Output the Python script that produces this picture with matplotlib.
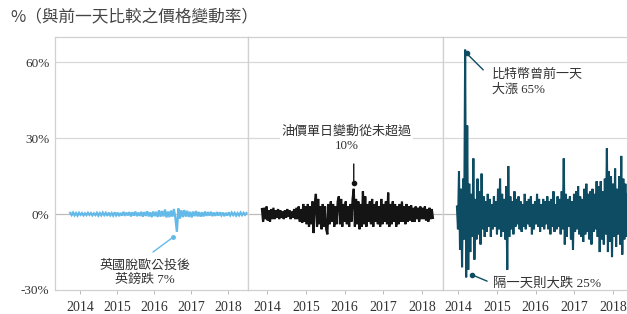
import numpy as np
import matplotlib
matplotlib.use("Agg")
import matplotlib.pyplot as plt

# ---------------- data ----------------
title = "%（與前一天比較之價格變動率）"
years = [2014, 2015, 2016, 2017, 2018]
y_ticks = [-30, 0, 30, 60]
y_ticklabels = ["-30%", "0%", "30%", "60%"]

# GBP daily change (%)
gbp_start, gbp_end = 2013.73, 2018.50
gbp_change = [
    0.5, -0.4, 0.6, -0.5, 0.4, -0.6, 0.5, -0.3, 0.4, -0.5,
    0.3, -0.4, 0.5, -0.3, 0.4, -0.5, 0.3, -0.4, 0.5, -0.6,
    0.4, -0.5, 0.6, -0.4, 0.5, -0.7, 0.6, -0.5, 0.4, -0.6,
    0.7, -0.5, 0.6, -0.8, 0.5, -0.6, 0.9, -0.7, 0.6, -0.5,
    0.8, -0.9, 0.7, -0.6, 1.0, -0.8, 0.6, -0.7, 0.9, -1.0,
    0.8, -0.7, 1.1, -0.9, 0.7, -1.2, 1.0, -0.8, 0.9, -1.1,
    1.5, -1.0, 1.2, -0.9, 1.8, -1.3, 1.0, -1.2, 1.4, -1.0,
    2.0, -1.5, -7.0, 2.2, -1.8, 1.5, -1.2, 1.6, -1.0, 1.3,
    -1.1, 0.9, -1.3, 1.0, -0.8, 1.2, -0.9, 0.8, -1.0, 0.7,
    -0.9, 1.0, -0.7, 0.8, -0.6, 0.9, -0.8, 0.6, -0.7, 0.8,
    -0.6, 0.7, -0.5, 0.6, -0.8, 0.5, -0.6, 0.7, -0.5, 0.6,
    -0.4, 0.5, -0.6, 0.4, -0.5, 0.6, -0.4, 0.5, -0.3, 0.4,
]

# Oil daily change (%)
oil_start, oil_end = 2013.87, 2018.28
oil_change = [
    2, -3, 2.5, -2, 3, -2.5, 1.5, -3, 2, -2,
    2.5, -2, 1.5, -1.5, 2, -2, 1.5, -1.5, 1, -2,
    1.5, -1.5, 2, -1, 1.5, -2, 1, -1.5, 2, -2,
    2.5, -2, 3, -3, 2, -3.5, 4, -3, 3, -4,
    4, -5, 3, -4, 5, -7.5, 4, 8, -5, 6,
    -4, 3, -6, 4, -5, 3, -6, -8, 4, -4,
    5, -3, 4, -5, 3, -4, 5, 7, -4, 6,
    -5, 4, -3, 5, -4, 3, -5, 4, -3, 6,
    10, -5, 6, -4, 5, -6, 4, -5, 9, -4,
    7, -5, 4, -3, 5, -4, 6, -5, 4, -3,
    5, -4, 3, -5, 6, -4, 4, -3, 5, -4,
    8.5, -5, 4, -4, 5, -3, 4, -5, 3, -4,
    4, -3, 5, -3, 3, -4, 4, -3, 3, -2.5,
    3.5, -3, 2.5, -3, 3, -2, 2.5, -3, 3, -2,
    2.5, -2, 3, -2.5, 2, -3, 2.5, -2, 2, -1.5,
]

# Bitcoin daily change (%)
btc_start, btc_end = 2013.97, 2018.72
btc_change = [
    3, -6, 17, -14, 10, -21, 14, -10, 65, -25,
    35, -22, 12, -15, 8, -9, 22, -18, 6, -10,
    14, -8, 9, -12, 16, -6, 7, -9, 5, -7,
    8, -5, 6, -9, 4, -6, 7, -5, 5, -8,
    10, -6, 14, -9, 8, -7, 6, -10, 11, -22,
    19, -9, 7, -6, 5, -8, 9, -5, 6, -4,
    7, -6, 5, -7, 4, -5, 8, -6, 5, -4,
    6, -5, 7, -8, 4, -6, 5, -4, 8, -5,
    6, -7, 4, -5, 6, -6, 5, -4, 7, -6,
    5, -8, 6, -5, 9, -7, 4, -6, 7, -5,
    6, -8, 9, -6, 22, -12, 8, -9, 6, -5,
    7, -10, 5, -14, 8, -7, 9, -6, 11, -8,
    7, -9, 6, -11, 10, -8, 12, -7, 8, -10,
    9, -12, 10, -7, 8, -6, 13, -9, 11, -15,
    13, -10, 9, -12, 14, -8, 26, -15, 17, -11,
    15, -17, 12, -9, 18, -13, 10, -8, 15, -12,
    23, -16, 14, -10, 12, -9, 8, -14, 10, -7,
    9, -6, 7, -8, 6, -5, 5, -6, 4, -5,
]

gbp_note = "英國脫歐公投後\n英鎊跌 7%"
oil_note = "油價單日變動從未超過\n10%"
btc_up_note = "比特幣曾前一天\n大漲 65%"
btc_down_note = "隔一天則大跌 25%"

# ---------------- style ----------------
W, H = 627, 314
CJK = ["Liberation Serif", "Noto Sans CJK TC", "DejaVu Sans"]
SERIF = ["Liberation Serif", "DejaVu Serif"]
C_GBP = "#63b9e8"
C_OIL = "#141414"
C_BTC = "#0d4c63"
C_TXT = "#333333"
C_GRID = "#d8d8d8"
C_SPINE = "#d0d0d0"

fig = plt.figure(figsize=(W / 100, H / 100), dpi=100)
fig.patch.set_facecolor("white")


def px_axes(x0, x1, y0=37, y1=290):
    return [x0 / W, 1 - y1 / H, (x1 - x0) / W, (y1 - y0) / H]


panels = [
    (px_axes(55, 248), (2013.32, 2018.54), gbp_start, gbp_end, gbp_change, C_GBP, 1.6),
    (px_axes(248, 443), (2013.51, 2018.54), oil_start, oil_end, oil_change, C_OIL, 1.6),
    (px_axes(443, 640), (2013.61, 2018.70), btc_start, btc_end, btc_change, C_BTC, 1.5),
]

axes = []
series = []
for i, (rect, xl, s, e, vals, col, lw) in enumerate(panels):
    ax = fig.add_axes(rect)
    vals = np.asarray(vals, dtype=float)
    x = np.linspace(s, e, len(vals))
    series.append((x, vals))
    for g in (30, 60):
        ax.axhline(g, color=C_GRID, lw=0.9, zorder=0)
    ax.axhline(0, color="#bdbdbd", lw=0.9, zorder=0)
    ax.plot(x, vals, color=col, lw=lw, zorder=2, solid_joinstyle="miter")
    ax.set_xlim(*xl)
    ax.set_ylim(-30, 70)
    ax.set_xticks(years)
    ax.set_xticklabels([str(y) for y in years], fontfamily=SERIF, fontsize=10, color=C_TXT)
    ax.tick_params(axis="x", length=3, width=0.7, color="#bbbbbb", pad=5)
    ax.set_yticks(y_ticks)
    if i == 0:
        ax.set_yticklabels(y_ticklabels, fontfamily=SERIF, fontsize=9.5, color=C_TXT)
        ax.tick_params(axis="y", length=0, pad=4)
    else:
        ax.tick_params(axis="y", length=0, labelleft=False)
    for sp in ax.spines.values():
        sp.set_color(C_SPINE)
        sp.set_linewidth(0.9)
    axes.append(ax)

ax1, ax2, ax3 = axes

# ---- annotations ----
# GBP
gx, gv = series[0]
gi = int(np.argmin(gv))
gdot = (gx[gi] - 0.1, gv[gi] - 2.1)
ax1.annotate("", xy=gdot, xytext=(2015.97, -15.0),
             arrowprops=dict(arrowstyle="-", color=C_GBP, lw=1.0, shrinkA=0, shrinkB=0))
ax1.plot([gdot[0]], [gdot[1]], "o", color=C_GBP, ms=2.5, zorder=3)
ax1.text(2015.76, -23.3, gbp_note, ha="center", va="center", fontsize=9.4,
         family=CJK, color=C_TXT, linespacing=1.25)

# Oil
ox, ov = series[1]
oi = int(np.argmax(ov))
odot = (ox[oi], ov[oi] + 2.3)
ax2.annotate("", xy=odot, xytext=(ox[oi], 19.8),
             arrowprops=dict(arrowstyle="-", color=C_OIL, lw=1.0, shrinkA=0, shrinkB=0))
ax2.plot([odot[0]], [odot[1]], "o", color=C_OIL, ms=3, zorder=3)
ax2.text(2016.06, 30.0, oil_note, ha="center", va="center", fontsize=9.4,
         family=CJK, color=C_TXT, linespacing=1.25,
         bbox=dict(facecolor="white", edgecolor="none", pad=1.0), zorder=4)

# Bitcoin
bx, bv = series[2]
bi = int(np.argmax(bv))
bdot = (bx[bi] + 0.04, bv[bi] - 1.5)
ax3.annotate("", xy=bdot, xytext=(2014.65, 57.0),
             arrowprops=dict(arrowstyle="-", color=C_BTC, lw=1.0, shrinkA=0, shrinkB=0))
ax3.plot([bdot[0]], [bdot[1]], "o", color=C_BTC, ms=3, zorder=3)
ax3.text(2014.88, 52.0, btc_up_note, ha="left", va="center", fontsize=9.4,
         family=CJK, color=C_TXT, linespacing=1.25)

bj = int(np.argmin(bv))
bdot2 = (bx[bj] + 0.15, bv[bj] + 1.0)
ax3.annotate("", xy=bdot2, xytext=(2014.75, -26.5),
             arrowprops=dict(arrowstyle="-", color=C_BTC, lw=1.0, shrinkA=0, shrinkB=0))
ax3.plot([bdot2[0]], [bdot2[1]], "o", color=C_BTC, ms=3, zorder=3)
ax3.text(2014.90, -27.3, btc_down_note, ha="left", va="center", fontsize=9.6,
         family=CJK, color=C_TXT)

# Title
fig.text(10 / W, 1 - 18 / H, title, ha="left", va="center", fontsize=12,
         family=["Noto Sans CJK TC", "DejaVu Sans"], color="#444444")

fig.savefig("out.png", dpi=100, facecolor="white")
